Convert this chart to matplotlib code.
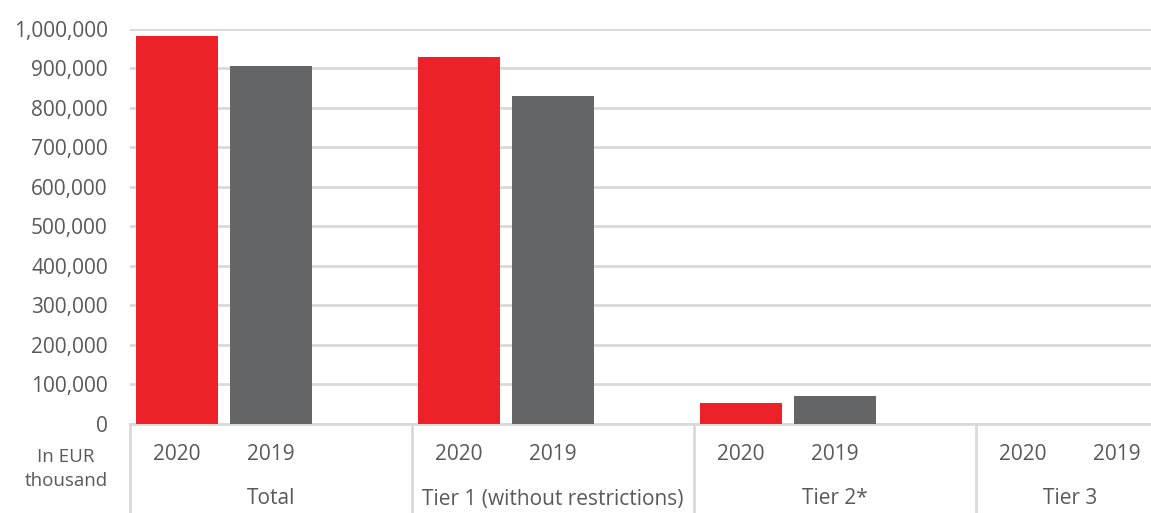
import matplotlib
matplotlib.use("Agg")
import matplotlib.pyplot as plt
from matplotlib.ticker import FuncFormatter
import matplotlib.transforms as mtransforms

# Data
groups = ["Total", "Tier 1 (without restrictions)", "Tier 2*", "Tier 3"]
years = ["2020", "2019"]
values_2020 = [983500, 929000, 51000, 0]
values_2019 = [905000, 831000, 70000, 0]
y_ticks = list(range(0, 1000001, 100000))
unit_label = "In EUR\nthousand"

RED = "#ED2128"
GRAY = "#646567"
GRID = "#D9D9D9"
TEXT = "#595959"

plt.rcParams["font.family"] = ["Open Sans", "DejaVu Sans"]

W, H = 1151, 513
fig = plt.figure(figsize=(W / 100, H / 100), dpi=100)
left_px, right_px = 130, 1164
top_px, bottom_px = 29, 423.5
ax = fig.add_axes([left_px / W, (H - bottom_px) / H,
                   (right_px - left_px) / W, (bottom_px - top_px) / H])

slots_per_group = 3
n_slots = slots_per_group * (len(groups) - 1) + len(years)
bar_w = 0.88

x2020 = [g * slots_per_group + 0.5 for g in range(len(groups))]
x2019 = [g * slots_per_group + 1.5 for g in range(len(groups))]
ax.bar(x2020, values_2020, width=bar_w, color=RED, zorder=3)
ax.bar(x2019, values_2019, width=bar_w, color=GRAY, zorder=3)

ax.set_xlim(0, n_slots)
ax.set_ylim(0, 1000000)
ax.set_yticks(y_ticks)
ax.yaxis.set_major_formatter(FuncFormatter(lambda v, p: f"{int(v):,}"))
ax.grid(axis="y", color=GRID, linewidth=2, zorder=0)
ax.set_xticks([])
for s in ["top", "right", "left"]:
    ax.spines[s].set_visible(False)
ax.spines["bottom"].set_color(GRID)
ax.spines["bottom"].set_linewidth(2)
ax.tick_params(axis="y", length=0, pad=16, labelsize=15, labelcolor=TEXT)

trans = mtransforms.blended_transform_factory(ax.transData, ax.transAxes)
axh = bottom_px - top_px
ybot = -(H - bottom_px + 5) / axh
for g in range(len(groups)):
    xb = g * slots_per_group
    ax.plot([xb, xb], [0, ybot], color=GRID, linewidth=2, transform=trans,
            clip_on=False)

y_year = -(455 - bottom_px) / axh
y_group = -(499 - bottom_px) / axh
for g, name in enumerate(groups):
    n_in_group = slots_per_group if g < len(groups) - 1 else len(years)
    for k, yr in enumerate(years):
        ax.text(g * slots_per_group + 0.5 + k, y_year, yr, transform=trans,
                ha="center", va="center", fontsize=15, color=TEXT)
    ax.text(g * slots_per_group + n_in_group / 2, y_group, name,
            transform=trans, ha="center", va="center", fontsize=15,
            color=TEXT)

fig.text(66 / W, 1 - 469 / H, unit_label, ha="center", va="center",
         fontsize=13.5, color=TEXT, linespacing=1.4)

fig.savefig("out.png", dpi=100)
